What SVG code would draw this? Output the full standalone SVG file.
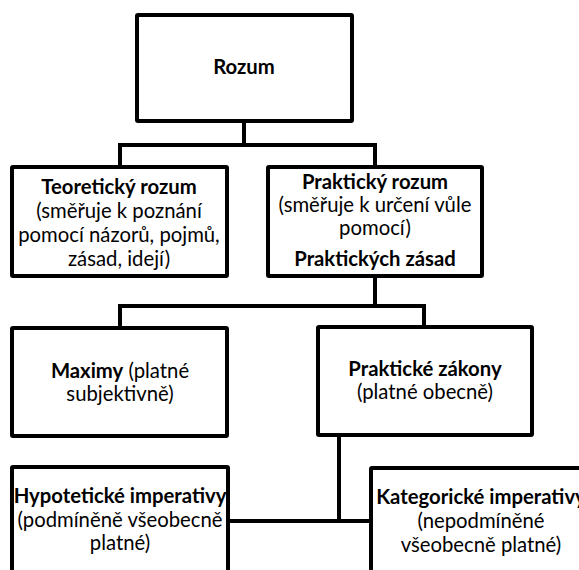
<svg xmlns="http://www.w3.org/2000/svg" width="579" height="570" viewBox="0 0 579 570">
<style>
.box{fill:#fff;stroke:#000;stroke-width:4;stroke-linejoin:round}
.con{fill:none;stroke:#000;stroke-width:4;stroke-linejoin:miter}
text{font-family:Lato,"Liberation Sans",sans-serif;font-size:20.3px;fill:#000;text-anchor:middle}
.b{font-weight:bold}
</style>
<rect width="579" height="570" fill="#fff"/>
<g id="connectors">
<path class="con" d="M244 121V145M120 167V145H375V167"/>
<path class="con" d="M375 276V306M120 328V306H424V327"/>
<path class="con" d="M339 435V521M228 521H371"/>
</g>
<g id="rozum">
<rect class="box" x="137" y="15" width="215" height="106" rx="1"/>
<text class="b" x="244" y="74">Rozum</text>
</g>
<g id="teoreticky">
<rect class="box" x="12" y="167" width="215" height="109" rx="1"/>
<text class="b" x="119" y="194">Teoretický rozum</text>
<text x="119" y="218">(směřuje k poznání</text>
<text x="119" y="242">pomocí názorů, pojmů,</text>
<text x="119" y="266">zásad, idejí)</text>
</g>
<g id="prakticky">
<rect class="box" x="268" y="167" width="214" height="109" rx="1"/>
<text class="b" x="375" y="189">Praktický rozum</text>
<text x="375" y="212">(směřuje k určení vůle</text>
<text x="375" y="235">pomocí)</text>
<text class="b" x="375" y="266">Praktických zásad</text>
</g>
<g id="maximy">
<rect class="box" x="12" y="328" width="215" height="108" rx="1"/>
<text x="120" y="378"><tspan class="b">Maximy</tspan> (platné</text>
<text x="120" y="401">subjektivně)</text>
</g>
<g id="zakony">
<rect class="box" x="318" y="327" width="214" height="108" rx="1"/>
<text class="b" x="425" y="376">Praktické zákony</text>
<text x="425" y="399">(platné obecně)</text>
</g>
<g id="hypoteticke">
<rect class="box" x="12" y="467" width="216" height="120" rx="1"/>
<text class="b" x="120" y="503">Hypotetické imperativy</text>
<text x="120" y="527">(podmíněně všeobecně</text>
<text x="120" y="550">platné)</text>
</g>
<g id="kategoricke">
<rect class="box" x="371" y="468" width="220" height="120" rx="1"/>
<text class="b" x="481" y="504">Kategorické imperativy</text>
<text x="481" y="528">(nepodmíněné</text>
<text x="481" y="552">všeobecně platné)</text>
</g>
</svg>
